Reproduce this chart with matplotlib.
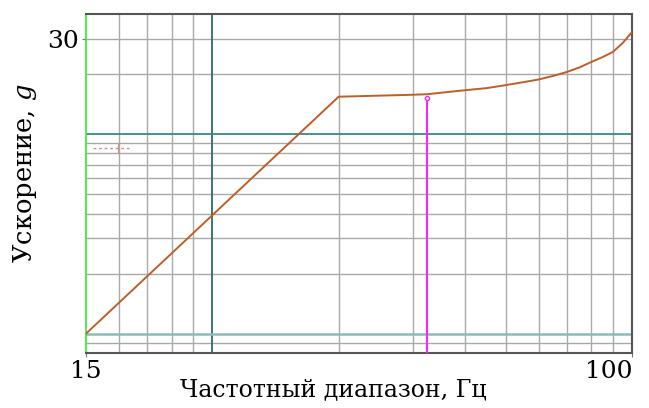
import matplotlib
matplotlib.use("Agg")
import matplotlib.pyplot as plt
from matplotlib.ticker import NullFormatter, FixedLocator

# Data (axis units of the log grid)
freq = [5, 20, 30, 32.5, 40, 45, 50, 55, 60, 65, 70, 75, 80, 85, 90, 95, 100]
accel = [1.0, 15.4, 15.75, 15.85, 16.6, 17.0, 17.6, 18.2, 18.8, 19.6, 20.5, 21.6,
         23.0, 24.3, 25.8, 28.6, 32.5]
marker_x = 32.5
marker_top = 15.1

x_grid = [6, 7, 8, 9, 20, 30, 40, 50, 60, 70, 80, 90]
y_grid = [0.9, 2, 3, 4, 5, 6, 7, 8, 9, 20, 30]
x_ticks = [5, 100]
x_ticklabels = ["15", "100"]
y_ticks = [30]
y_ticklabels = ["30"]

plt.rcParams['font.family'] = ['DejaVu Serif']
plt.rcParams['mathtext.fontset'] = 'dejavuserif'

fig = plt.figure(figsize=(6.49, 4.08), dpi=100)
ax = fig.add_axes([86/649, 1-353/408, (632-86)/649, (353-14)/408])
ax.set_xscale('log')
ax.set_yscale('log')
ax.set_xlim(5, 100)
ax.set_ylim(0.8, 40)

grid_c = '#a9a9a9'
for gx in x_grid:
    ax.axvline(gx, color=grid_c, lw=1.0, zorder=1)
for gy in y_grid:
    ax.axhline(gy, color=grid_c, lw=1.0, zorder=1)

ax.axvline(10, color='#2c6a6a', lw=1.3, zorder=2)
ax.axhline(10, color='#3a8787', lw=1.3, zorder=2)
ax.axhline(1, color='#8fbaba', lw=1.8, zorder=2)

ax.plot(freq, accel, color='#bb5f2b', lw=1.4, zorder=4)

ax.plot([marker_x, marker_x], [0.8, marker_top], color='#ff22ff', lw=1.5, zorder=3)
ax.plot([marker_x], [marker_top], marker='o', ms=3, mfc='white', mec='#ff22ff', mew=1, zorder=5)

# faint legend remnant
ax.plot([0.013, 0.082], [0.605, 0.605], transform=ax.transAxes, color='#d09080',
        lw=1, ls=(0, (2, 2)), zorder=3)
ax.plot([0.059, 0.059], [0.59, 0.62], transform=ax.transAxes, color='#d09080', lw=0.8, zorder=3)

for s in ['top', 'right', 'bottom']:
    ax.spines[s].set_color('#555555')
    ax.spines[s].set_linewidth(1.5)
ax.spines['left'].set_color('#33e833')
ax.spines['left'].set_linewidth(1.2)

ax.xaxis.set_major_locator(FixedLocator(x_ticks))
ax.xaxis.set_minor_locator(FixedLocator([]))
ax.yaxis.set_major_locator(FixedLocator(y_ticks))
ax.yaxis.set_minor_locator(FixedLocator([]))
ax.xaxis.set_minor_formatter(NullFormatter())
ax.yaxis.set_minor_formatter(NullFormatter())
ax.set_xticklabels(x_ticklabels)
ax.set_yticklabels(y_ticklabels)
ax.tick_params(axis='both', length=3, color='#777777', labelsize=18, pad=2)
labs = ax.get_xticklabels()
labs[1].set_horizontalalignment('right')

fig.text(333/649, 1-390/408, "Частотный диапазон, Гц", ha='center', va='center', fontsize=17)
fig.text(25/649, 1-173/408, "Ускорение, $g$", ha='center', va='center',
         rotation=90, fontsize=18.5)

fig.savefig("out.png", dpi=100)
